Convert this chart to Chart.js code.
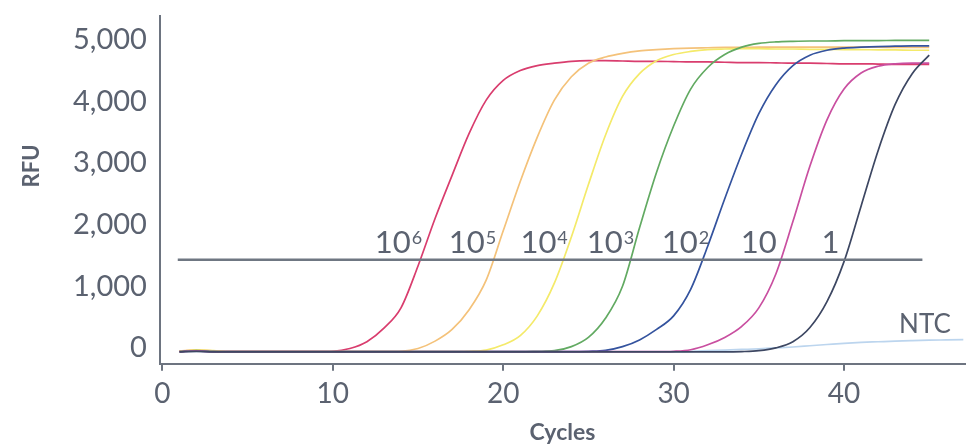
<!DOCTYPE html>
<html>
<head>
<meta charset="utf-8">
<script src="https://cdn.jsdelivr.net/npm/chart.js@4/dist/chart.umd.min.js"></script>
<style>
    html, body { margin: 0; padding: 0; background: #ffffff; }
    #wrap { width: 968px; height: 448px; position: relative; }
</style>
</head>
<body>
<div id="wrap"><canvas id="qpcr-chart"></canvas></div>
<script>
// Amplification curves, RFU per cycle (cycles 1..45)
const cycles = [1, 2, 3, 4, 5, 6, 7, 8, 9, 10, 11, 12, 13, 14, 15, 16, 17, 18, 19, 20, 21, 22, 23, 24, 25, 26, 27, 28, 29, 30, 31, 32, 33, 34, 35, 36, 37, 38, 39, 40, 41, 42, 43, 44, 45];

const rfu1e6 = [-55, -40, -55, -60, -60, -60, -60, -60, -60, -55, -10, 100, 320, 650, 1330, 2100, 2800, 3480, 4020, 4340, 4500, 4580, 4620, 4650, 4660, 4660, 4655, 4650, 4650, 4645, 4640, 4640, 4635, 4630, 4630, 4625, 4620, 4620, 4615, 4610, 4610, 4605, 4600, 4600, 4600];
const rfu1e5 = [-50, -30, -50, -60, -60, -60, -60, -60, -60, -60, -60, -60, -60, -55, -10, 110, 300, 620, 1100, 1900, 2700, 3420, 4020, 4400, 4620, 4720, 4780, 4820, 4840, 4855, 4865, 4870, 4875, 4875, 4880, 4880, 4880, 4880, 4880, 4880, 4880, 4880, 4875, 4875, 4875];
const rfu1e4 = [-55, -35, -45, -60, -60, -60, -60, -60, -60, -60, -60, -60, -60, -60, -60, -60, -60, -55, -35, 50, 200, 520, 1050, 1800, 2650, 3450, 4080, 4450, 4660, 4760, 4810, 4840, 4850, 4855, 4855, 4850, 4850, 4845, 4845, 4840, 4840, 4835, 4835, 4830, 4830];
const rfu1e3 = [-60, -45, -55, -60, -60, -60, -60, -60, -60, -60, -60, -60, -60, -60, -60, -60, -60, -60, -60, -60, -60, -55, -45, 20, 170, 480, 1000, 1950, 2850, 3600, 4200, 4550, 4760, 4880, 4940, 4965, 4975, 4980, 4980, 4985, 4985, 4985, 4990, 4990, 4990];
const rfu1e2 = [-60, -50, -60, -60, -60, -60, -60, -60, -60, -60, -60, -60, -60, -60, -60, -60, -60, -60, -60, -60, -60, -60, -60, -60, -55, -40, 20, 130, 300, 520, 950, 1650, 2420, 3150, 3800, 4270, 4580, 4750, 4830, 4865, 4880, 4890, 4895, 4900, 4900];
const rfu1e1 = [-60, -50, -60, -60, -60, -60, -60, -60, -60, -60, -60, -60, -60, -60, -60, -60, -60, -60, -60, -60, -60, -60, -60, -60, -60, -60, -60, -60, -60, -55, -30, 50, 170, 350, 650, 1200, 2050, 2950, 3700, 4200, 4460, 4570, 4610, 4620, 4620];
const rfu1e0 = [-65, -55, -65, -65, -65, -65, -65, -65, -65, -65, -65, -65, -65, -65, -65, -65, -65, -65, -65, -65, -65, -65, -65, -65, -65, -65, -65, -65, -65, -65, -65, -65, -65, -60, -45, 0, 100, 330, 750, 1400, 2300, 3200, 3950, 4450, 4750];

// NTC runs on to the end of the axis (cycles 1..47)
const ntcCycles = [1, 2, 3, 4, 5, 6, 7, 8, 9, 10, 11, 12, 13, 14, 15, 16, 17, 18, 19, 20, 21, 22, 23, 24, 25, 26, 27, 28, 29, 30, 31, 32, 33, 34, 35, 36, 37, 38, 39, 40, 41, 42, 43, 44, 45, 46, 47];
const rfuNtc = [-60, -55, -60, -60, -60, -60, -60, -60, -60, -60, -60, -60, -60, -60, -60, -60, -60, -60, -60, -60, -60, -60, -60, -60, -60, -60, -60, -60, -60, -60, -55, -45, -35, -25, -15, 0, 15, 35, 55, 75, 90, 100, 110, 118, 125, 130, 135];

// Threshold line
const thresholdRfu = 1430;
const thresholdFrom = 0.9;
const thresholdTo = 44.6;

// Curve labels: base text, exponent, cycle (centre), RFU (baseline)
const labelBases = ['10', '10', '10', '10', '10', '10', '1', 'NTC'];
const labelExps = ['6', '5', '4', '3', '2', '', '', ''];
const labelCycles = [13.85, 18.2, 22.4, 26.3, 30.7, 35.0, 39.2, 44.75];
const labelRfu = [1543, 1543, 1543, 1543, 1543, 1543, 1543, 240];

// Axis ticks
const xTicks = [0, 10, 20, 30, 40];
const yTicks = [0, 1000, 2000, 3000, 4000, 5000];

const COLORS = {
    text: '#5b6270',
    axis: '#6d7480',
    threshold: '#6f7782',
    e6: '#d93d6e',
    e5: '#f4c27a',
    e4: '#f4ea6a',
    e3: '#62aa62',
    e2: '#34539e',
    e1: '#c94fa0',
    e0: '#3d4762',
    ntc: '#bcd5ee'
};

const FONT = 'Lato, "Noto Sans", sans-serif';

function toPoints(xs, ys) {
    return xs.map((x, i) => ({ x: x, y: ys[i] }));
}

function curve(label, ys, color, xs) {
    return {
        label: label,
        data: toPoints(xs || cycles, ys),
        borderColor: color,
        borderWidth: 1.7,
        pointRadius: 0,
        fill: false,
        cubicInterpolationMode: 'monotone'
    };
}

// Draws the dilution labels next to the curves and the RFU title
const curveLabels = {
    id: 'curveLabels',
    afterDatasetsDraw(chart) {
        const ctx = chart.ctx;
        const xs = chart.scales.x;
        const ys = chart.scales.y;
        ctx.save();
        ctx.fillStyle = COLORS.text;
        ctx.textAlign = 'left';
        ctx.textBaseline = 'alphabetic';
        labelBases.forEach((t, i) => {
            const baseFont = (t === 'NTC' ? '26px ' : '31px ') + FONT;
            const expFont = '18px ' + FONT;
            ctx.font = baseFont;
            const wBase = ctx.measureText(t).width;
            ctx.font = expFont;
            const wExp = labelExps[i] ? ctx.measureText(labelExps[i]).width + 1 : 0;
            const cx = xs.getPixelForValue(labelCycles[i]);
            const cy = ys.getPixelForValue(labelRfu[i]);
            const left = cx - (wBase + wExp) / 2;
            ctx.font = baseFont;
            ctx.fillText(t, left, cy);
            if (labelExps[i]) {
                ctx.font = expFont;
                ctx.fillText(labelExps[i], left + wBase + 1, cy - 9);
            }
        });
        ctx.restore();
    },
    afterDraw(chart) {
        const ctx = chart.ctx;
        ctx.save();
        ctx.fillStyle = COLORS.text;
        ctx.font = 'bold 22px ' + FONT;
        ctx.textAlign = 'center';
        ctx.textBaseline = 'middle';
        ctx.translate(32, 166);
        ctx.rotate(-Math.PI / 2);
        ctx.fillText('RFU', 0, 0);
        ctx.restore();
    }
};

const ctx = document.getElementById('qpcr-chart').getContext('2d');

new Chart(ctx, {
    type: 'line',
    data: {
        datasets: [
            {
                label: 'Threshold',
                data: toPoints([thresholdFrom, thresholdTo], [thresholdRfu, thresholdRfu]),
                borderColor: COLORS.threshold,
                borderWidth: 2.5,
                pointRadius: 0,
                fill: false
            },
            curve('1', rfu1e0, COLORS.e0),
            curve('10', rfu1e1, COLORS.e1),
            curve('10^2', rfu1e2, COLORS.e2),
            curve('10^3', rfu1e3, COLORS.e3),
            curve('10^4', rfu1e4, COLORS.e4),
            curve('10^5', rfu1e5, COLORS.e5),
            curve('10^6', rfu1e6, COLORS.e6),
            curve('NTC', rfuNtc, COLORS.ntc, ntcCycles)
        ]
    },
    options: {
        responsive: true,
        maintainAspectRatio: false,
        animation: false,
        layout: {
            padding: { top: 0, right: 3, left: 60, bottom: 2 }
        },
        plugins: {
            legend: { display: false },
            tooltip: { enabled: false }
        },
        scales: {
            x: {
                type: 'linear',
                min: -0.15,
                max: 47.1,
                afterBuildTicks: (scale) => {
                    scale.ticks = xTicks.map(v => ({ value: v }));
                },
                border: { display: true, color: COLORS.axis, width: 2 },
                grid: {
                    drawOnChartArea: false,
                    drawTicks: true,
                    tickLength: 7,
                    color: COLORS.axis,
                    lineWidth: 2
                },
                ticks: {
                    color: COLORS.text,
                    font: { family: FONT, size: 28 },
                    padding: 6,
                    maxRotation: 0
                },
                title: {
                    display: true,
                    text: 'Cycles',
                    color: COLORS.text,
                    font: { family: FONT, size: 23, weight: 'bold' },
                    padding: { top: 2, bottom: 0 }
                }
            },
            y: {
                type: 'linear',
                min: -258,
                max: 5387,
                afterBuildTicks: (scale) => {
                    scale.ticks = yTicks.map(v => ({ value: v }));
                },
                border: { display: true, color: COLORS.axis, width: 2 },
                grid: { display: false, drawTicks: false },
                ticks: {
                    color: COLORS.text,
                    font: { family: FONT, size: 29, lineHeight: 0.2 },
                    padding: 13,
                    callback: (v) => v.toLocaleString('en-US')
                }
            }
        }
    },
    plugins: [curveLabels]
});
</script>
</body>
</html>
